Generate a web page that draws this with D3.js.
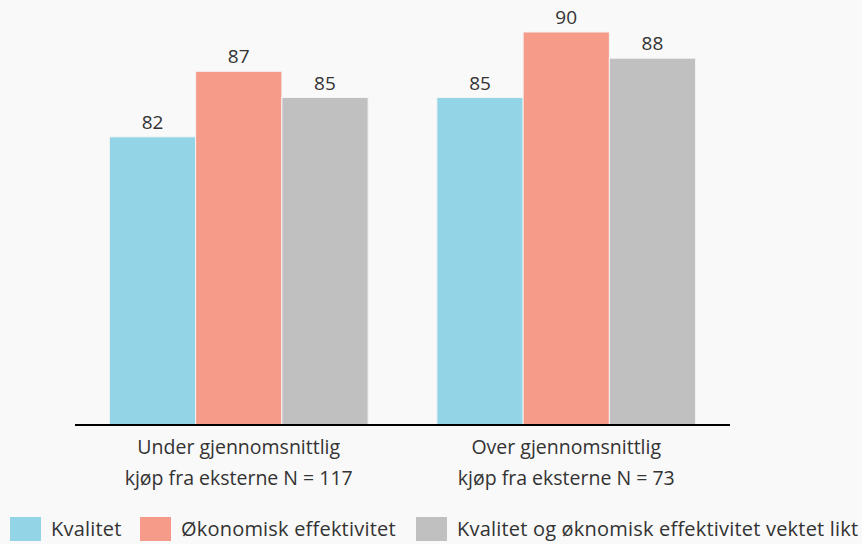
<!DOCTYPE html>
<html>
<head>
<meta charset="utf-8">
<script src="https://cdn.jsdelivr.net/npm/d3@7"></script>
<style>
  body { margin: 0; background: #f9f9f9; }
  text { font-family: "Open Sans", "Noto Sans", sans-serif; fill: #333; }
</style>
</head>
<body>
<div id="chart"></div>
<script>
const groups = [
    ["Under gjennomsnittlig", "kjøp fra eksterne N = 117"],
    ["Over gjennomsnittlig", "kjøp fra eksterne N = 73"],
]
const seriesNames = ["Kvalitet", "Økonomisk effektivitet", "Kvalitet og øknomisk effektivitet vektet likt"]
const kvalitet = [82, 85]
const okonomisk = [87, 90]
const vektet = [85, 88]
const colors = ["#93d4e7", "#f69b89", "#c0c0c0"]

const width = 862, height = 544

const svg = d3.select("#chart").append("svg")
.attr("width", width)
.attr("height", height)

const table = groups.map((g, i) => ({
    key : i,
    values : [kvalitet[i], okonomisk[i], vektet[i]]
}))

const x0 = d3.scaleBand()
.range([75, 730])
.domain(table.map((d) => d.key))
.paddingInner(0.21)
.paddingOuter(0.105)

const x1 = d3.scaleBand()
.range([0, x0.bandwidth()])
.domain(d3.range(seriesNames.length))

const yScale = d3.scaleLinear()
.domain([60, 90])
.range([425, 32])

const group = svg.selectAll("g.group")
.data(table)
.enter()
    .append("g")
    .attr("class", "group")
    .attr("transform", (d) => `translate(${x0(d.key)},0)`)

group.selectAll("rect")
.data((d) => d.values)
.enter()
    .append("rect")
    .attr("x", (d, i) => x1(i))
    .attr("y", (d) => yScale(d))
    .attr("width", x1.bandwidth())
    .attr("height", (d) => yScale(60) - yScale(d))
    .attr("fill", (d, i) => colors[i])
    .attr("stroke", "#f4f4f4")
    .attr("stroke-width", 1)

group.selectAll("text.val")
.data((d) => d.values)
.enter()
    .append("text")
    .attr("class", "val")
    .attr("x", (d, i) => x1(i) + x1.bandwidth() / 2)
    .attr("y", (d) => yScale(d) - 8)
    .attr("text-anchor", "middle")
    .style("font-size", "19px")
    .text((d) => d)

// x axis line
svg.append("line")
.attr("x1", 75)
.attr("x2", 730)
.attr("y1", 425)
.attr("y2", 425)
.attr("stroke", "#000")
.attr("stroke-width", 2)

// category labels
svg.selectAll("text.cat")
.data(table)
.enter()
    .append("text")
    .attr("class", "cat")
    .attr("text-anchor", "middle")
    .style("font-size", "19.5px")
    .each(function(d){
        const t = d3.select(this)
        groups[d.key].forEach((line, j) => {
            t.append("tspan")
            .attr("x", x0(d.key) + x0.bandwidth() / 2)
            .attr("y", 454 + j * 31)
            .text(line)
        })
    })

// legend
const legendX = [10, 140, 416]
const legend = svg.selectAll("g.legend")
.data(seriesNames)
.enter()
    .append("g")
    .attr("class", "legend")
    .attr("transform", (d, i) => `translate(${legendX[i]},517)`)
legend.append("rect")
.attr("width", 31)
.attr("height", 24)
.attr("fill", (d, i) => colors[i])
legend.append("text")
.attr("x", 41)
.attr("y", 19)
.style("font-size", "20px")
.style("letter-spacing", "0.2px")
.text((d) => d)
</script>
</body>
</html>
